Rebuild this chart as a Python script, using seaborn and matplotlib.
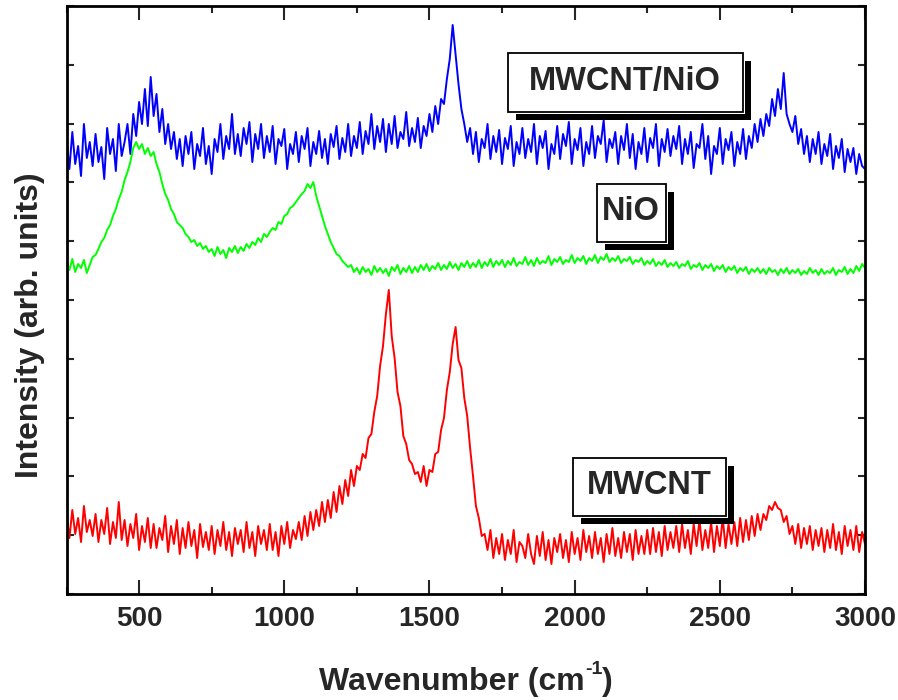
import numpy as np
import pandas as pd
import matplotlib
matplotlib.use("Agg")
import matplotlib.pyplot as plt
import seaborn as sns
from matplotlib.patches import Rectangle
from matplotlib.ticker import MultipleLocator

wavenumber = list(range(250, 3001, 10))

mwcnt_nio = [
    455, 425, 462, 430, 448, 418, 470, 436, 452, 428,
    460, 432, 447, 415, 466, 440, 455, 423, 470, 438,
    452, 470, 440, 480, 458, 492, 470, 505, 468, 517,
    478, 500, 462, 485, 450, 470, 445, 462, 435, 455,
    428, 458, 440, 462, 425, 450, 438, 466, 430, 448,
    420, 455, 442, 470, 435, 458, 445, 480, 440, 460,
    438, 466, 450, 472, 432, 460, 445, 470, 436, 458,
    442, 468, 430, 455, 448, 465, 425, 450, 440, 462,
    432, 458, 445, 466, 428, 452, 440, 463, 436, 455,
    430, 460, 447, 468, 435, 456, 442, 470, 438, 458,
    446, 472, 440, 463, 450, 480, 445, 468, 452, 475,
    442, 470, 450, 478, 446, 462, 455, 482, 448, 466,
    452, 476, 446, 468, 458, 480, 462, 488, 470, 495,
    490, 515, 535, 569, 540, 510, 485, 470, 452, 466,
    440, 462, 432, 455, 446, 470, 435, 458, 442, 464,
    430, 456, 445, 468, 428, 452, 440, 466, 436, 455,
    442, 470, 430, 458, 446, 463, 425, 450, 440, 468,
    435, 460, 448, 472, 430, 455, 444, 466, 428, 452,
    440, 468, 436, 458, 450, 474, 432, 455, 446, 462,
    430, 458, 444, 470, 436, 460, 425, 452, 440, 466,
    432, 456, 446, 470, 428, 455, 442, 465, 438, 458,
    445, 468, 430, 455, 440, 462, 426, 450, 446, 470,
    435, 458, 420, 448, 440, 466, 430, 455, 444, 462,
    428, 452, 440, 465, 435, 458, 446, 470, 452, 475,
    458, 480, 468, 495, 478, 505, 485, 521, 480, 470,
    462, 478, 450, 465, 440, 458, 432, 455, 440, 462,
    430, 450, 438, 460, 425, 448, 436, 455, 422, 445,
    432, 446, 420, 440, 428, 425,
]

nio = [
    332, 324, 335, 322, 330, 326, 334, 321, 329, 337,
    339, 345, 352, 356, 364, 369, 378, 385, 395, 402,
    414, 422, 432, 446, 452, 445, 450, 440, 446, 438,
    442, 430, 422, 410, 400, 394, 385, 380, 372, 369,
    366, 360, 357, 352, 354, 348, 351, 345, 348, 342,
    345, 338, 347, 340, 344, 336, 346, 342, 348, 341,
    347, 343, 350, 346, 352, 349, 356, 352, 360, 357,
    362, 366, 364, 372, 370, 378, 380, 386, 388, 392,
    396, 400, 403, 410, 406, 412, 398, 388, 378, 368,
    360, 352, 346, 340, 338, 333, 330, 327, 329, 322,
    326, 320, 327, 322, 325, 319, 328, 322, 326, 321,
    325, 318, 327, 323, 329, 320, 326, 322, 328, 321,
    327, 322, 329, 324, 330, 323, 328, 325, 331, 324,
    329, 325, 332, 326, 330, 324, 331, 327, 333, 326,
    331, 327, 334, 326, 332, 328, 335, 327, 333, 329,
    334, 327, 333, 329, 336, 328, 332, 330, 337, 329,
    334, 328, 336, 330, 333, 331, 338, 329, 335, 332,
    337, 330, 334, 332, 339, 331, 336, 333, 338, 330,
    336, 333, 339, 331, 337, 334, 340, 332, 336, 333,
    338, 331, 335, 333, 337, 330, 334, 332, 336, 329,
    333, 330, 335, 328, 332, 329, 334, 327, 331, 328,
    332, 326, 330, 328, 333, 325, 329, 327, 331, 324,
    329, 326, 330, 323, 328, 325, 329, 322, 327, 324,
    328, 321, 326, 323, 327, 320, 325, 322, 326, 321,
    325, 320, 326, 322, 324, 319, 325, 321, 326, 320,
    324, 321, 325, 319, 323, 320, 326, 321, 324, 319,
    325, 320, 323, 321, 326, 319, 324, 322, 327, 320,
    325, 321, 328, 323, 330, 326,
]

mwcnt = [
    80, 56, 84, 60, 76, 52, 88, 62, 74, 58,
    80, 52, 74, 60, 86, 50, 72, 56, 92, 54,
    74, 48, 70, 56, 80, 44, 68, 52, 76, 46,
    70, 46, 66, 54, 78, 42, 68, 50, 74, 40,
    66, 46, 72, 48, 64, 36, 70, 47, 62, 44,
    68, 40, 64, 48, 72, 44, 62, 38, 66, 50,
    64, 42, 72, 46, 62, 38, 68, 50, 64, 44,
    70, 44, 62, 38, 68, 50, 72, 46, 64, 55,
    72, 54, 78, 58, 82, 64, 84, 68, 92, 72,
    94, 76, 102, 82, 108, 90, 114, 98, 124, 108,
    128, 124, 140, 136, 156, 160, 182, 198, 228, 248,
    280, 304, 258, 236, 202, 188, 158, 150, 134, 130,
    120, 122, 112, 128, 108, 124, 122, 140, 142, 164,
    176, 204, 222, 250, 267, 234, 226, 196, 178, 146,
    118, 88, 76, 58, 60, 44, 64, 36, 56, 40,
    60, 34, 54, 40, 64, 32, 52, 48, 36, 60,
    40, 30, 58, 38, 62, 34, 54, 30, 56, 42,
    60, 36, 54, 32, 62, 40, 56, 34, 64, 42,
    58, 36, 62, 40, 56, 32, 60, 40, 66, 38,
    56, 36, 62, 42, 60, 34, 64, 40, 58, 40,
    64, 40, 66, 42, 62, 38, 68, 44, 62, 46,
    68, 42, 70, 46, 64, 40, 70, 48, 74, 44,
    64, 46, 72, 42, 68, 48, 76, 46, 70, 50,
    72, 48, 76, 52, 74, 54, 78, 58, 80, 64,
    80, 74, 88, 84, 92, 86, 84, 72, 78, 60,
    68, 50, 70, 46, 66, 50, 68, 44, 64, 48,
    66, 42, 64, 46, 70, 44, 62, 40, 68, 48,
    64, 44, 68, 42, 62, 50,
]

series_names = ["MWCNT/NiO", "NiO", "MWCNT"]
series_colors = ["#0000FF", "#00FF00", "#FF0000"]
tick_values = [500, 1000, 1500, 2000, 2500, 3000]

# label anchor positions (data coords) and box sizes (px)
label_x = [2174, 2195, 2257]
label_y = [511.5, 381, 107]
box_w = [235, 69, 153]
box_h = [59, 58, 58]

sns.set_style("ticks")
plt.rcParams["font.family"] = ["Liberation Sans", "DejaVu Sans"]
plt.rcParams["font.weight"] = "bold"

df = pd.DataFrame({
    "wavenumber": wavenumber * 3,
    "intensity": mwcnt_nio + nio + mwcnt,
    "sample": [series_names[0]] * len(wavenumber)
              + [series_names[1]] * len(wavenumber)
              + [series_names[2]] * len(wavenumber),
})

fig = plt.figure(figsize=(8.98, 7.0), dpi=100)
ax = fig.add_axes([66.5 / 898, 106 / 700, (865 - 66.5) / 898, 588 / 700])

sns.lineplot(data=df, x="wavenumber", y="intensity", hue="sample",
             palette=dict(zip(series_names, series_colors)),
             hue_order=series_names, linewidth=1.4, legend=False, ax=ax,
             estimator=None, sort=False)

ax.set_xlim(250, 3000)
ax.set_ylim(0, 588)
ax.set_xticks(tick_values)
ax.set_xticklabels([str(v) for v in tick_values])
ax.xaxis.set_minor_locator(MultipleLocator(250))
ax.yaxis.set_major_locator(MultipleLocator(58.8))
ax.set_yticklabels([])
ax.set_xlabel("")
ax.set_ylabel("")

for s in ax.spines.values():
    s.set_linewidth(2.0)
    s.set_color("black")

ax.tick_params(axis="x", which="major", direction="in", length=10, width=1.5,
               top=True, bottom=True, labelsize=20, pad=9)
ax.tick_params(axis="x", which="minor", direction="in", length=5, width=1.5,
               top=True, bottom=True)
ax.tick_params(axis="y", which="major", direction="in", length=5, width=1.5,
               left=True, right=True, labelleft=False)
for lab in ax.get_xticklabels():
    lab.set_fontweight("bold")

fig.text(30 / 898, 1 - 325 / 700, "Intensity (arb. units)", rotation=90,
         ha="center", va="center", fontsize=23, fontweight="bold")

# x label: main text + raised small "-1" + closing parenthesis
fig.canvas.draw()
renderer = fig.canvas.get_renderer()
t_main = fig.text(0, 1 - 682 / 700, "Wavenumber (cm", ha="left",
                  va="center", fontsize=23, fontweight="bold")
t_sup = fig.text(0, 1 - 670 / 700, "-1", ha="left", va="center",
                 fontsize=14, fontweight="bold")
t_end = fig.text(0, 1 - 682 / 700, ")", ha="left", va="center",
                 fontsize=23, fontweight="bold")
w_main = t_main.get_window_extent(renderer).width
w_sup = t_sup.get_window_extent(renderer).width
w_end = t_end.get_window_extent(renderer).width
total = w_main + w_sup + w_end
start = 466 - total / 2
t_main.set_x(start / 898)
t_sup.set_x((start + w_main) / 898)
t_end.set_x((start + w_main + w_sup) / 898)

fig.canvas.draw()
for name, lx, ly, bw, bh in zip(series_names, label_x, label_y, box_w, box_h):
    cx, cy = ax.transData.transform((lx, ly))
    x0, y0 = cx - bw / 2, cy - bh / 2
    shadow = Rectangle((x0 + 8, y0 - 8), bw, bh, transform=None,
                       facecolor="black", edgecolor="none", zorder=5)
    gap = Rectangle((x0 - 2, y0 - 2), bw + 4, bh + 4, transform=None,
                    facecolor="white", edgecolor="none", zorder=6)
    box = Rectangle((x0, y0), bw, bh, transform=None, facecolor="white",
                    edgecolor="black", linewidth=1.3, zorder=7)
    for p in (shadow, gap, box):
        fig.add_artist(p)
    fig.text(cx / fig.bbox.width, (cy + 1) / fig.bbox.height, name,
             ha="center", va="center", fontsize=23.5, fontweight="bold",
             zorder=8)

fig.savefig("out.png", dpi=100)
